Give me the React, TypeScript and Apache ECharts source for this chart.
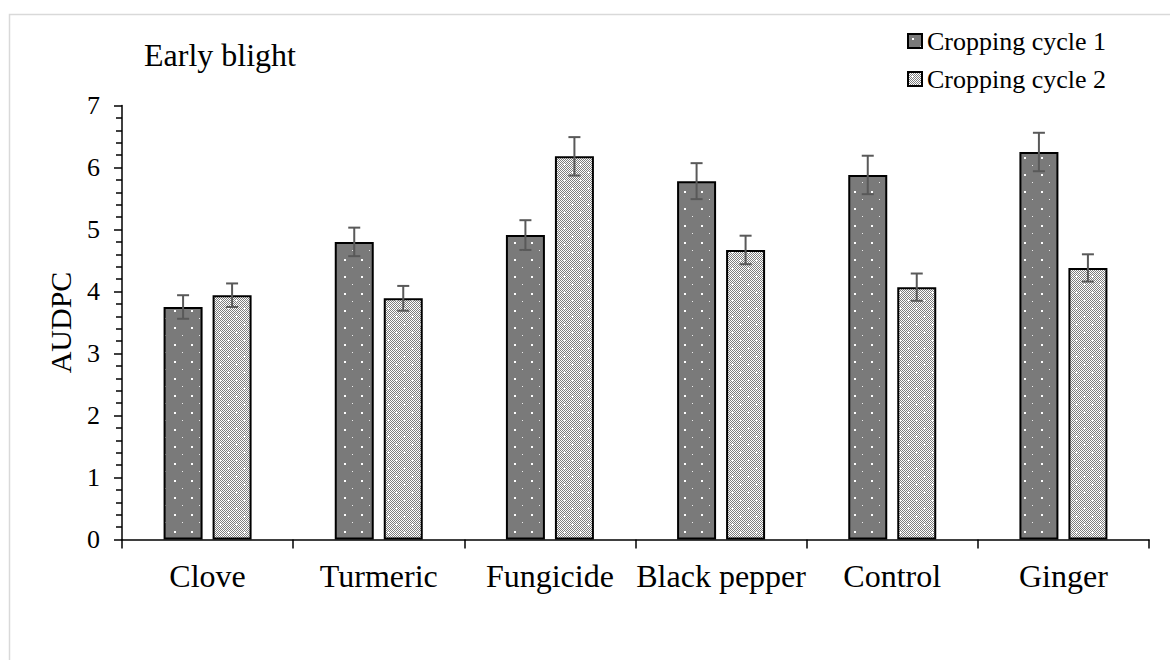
import React, { useEffect, useRef } from "react";
import * as echarts from "echarts";

const categories = ["Clove", "Turmeric", "Fungicide", "Black pepper", "Control", "Ginger"];
const cycle1 = [3.75, 4.8, 4.91, 5.78, 5.88, 6.25];
const cycle2 = [3.94, 3.89, 6.18, 4.67, 4.07, 4.38];
const err1 = [0.19, 0.23, 0.24, 0.29, 0.31, 0.31];
const err2 = [0.19, 0.2, 0.31, 0.23, 0.22, 0.22];
const seriesNames = ["Cropping cycle 1", "Cropping cycle 2"];
const yTicks = [0, 1, 2, 3, 4, 5, 6, 7];

const FONT = '"Liberation Serif", "Times New Roman", serif';

function makePattern1(): HTMLCanvasElement {
  const c = document.createElement("canvas");
  c.width = 17;
  c.height = 17;
  const ctx = c.getContext("2d")!;
  ctx.fillStyle = "#7a7a7a";
  ctx.fillRect(0, 0, 17, 17);
  ctx.fillStyle = "#ffffff";
  ctx.fillRect(4, 4, 2, 2);
  ctx.fillStyle = "#ececec";
  ctx.fillRect(12, 12, 1, 1);
  return c;
}

function makePattern2(): HTMLCanvasElement {
  const c = document.createElement("canvas");
  c.width = 16;
  c.height = 16;
  const ctx = c.getContext("2d")!;
  for (let y = 0; y < 16; y++) {
    for (let x = 0; x < 16; x++) {
      ctx.fillStyle = (x + y) % 2 === 0 ? "#7f7f7f" : "#ffffff";
      ctx.fillRect(x, y, 1, 1);
    }
  }
  ctx.fillStyle = "#ffffff";
  const plus = (cx: number, cy: number) => {
    ctx.fillRect(cx - 1, cy, 3, 1);
    ctx.fillRect(cx, cy - 1, 1, 3);
  };
  plus(4, 4);
  plus(12, 12);
  return c;
}

export default function App() {
  const ref = useRef<HTMLDivElement>(null);
  useEffect(() => {
    if (!ref.current) return;
    const chart = echarts.init(ref.current, null, { renderer: "svg" });
    const p1 = makePattern1();
    const p2 = makePattern2();
    const fill1: any = { image: p1, repeat: "repeat", imageWidth: 17, imageHeight: 17 };
    const fill2: any = { image: p2, repeat: "repeat", imageWidth: 16, imageHeight: 16 };
    const barWidth = 39;
    const barGapPx = 10;
    const offset = (barWidth + barGapPx) / 2;

    const errSeries = (vals: number[], errs: number[], dir: number) => ({
      type: "custom",
      silent: true,
      z: 10,
      data: vals.map((v, i) => [i, v, errs[i]]),
      encode: { x: 0, y: 1 },
      renderItem: (params: any, api: any) => {
        const idx = api.value(0);
        const v = api.value(1);
        const e = api.value(2);
        const top = api.coord([idx, v + e]);
        const bot = api.coord([idx, v - e]);
        const x = top[0] + dir * offset;
        const hw = 6;
        const style = { stroke: "#595959", lineWidth: 2 };
        return {
          type: "group",
          children: [
            { type: "line", shape: { x1: x, y1: top[1], x2: x, y2: bot[1] }, style },
            { type: "line", shape: { x1: x - hw, y1: top[1], x2: x + hw, y2: top[1] }, style },
            { type: "line", shape: { x1: x - hw, y1: bot[1], x2: x + hw, y2: bot[1] }, style },
          ],
        };
      },
    });

    chart.setOption({
      animation: false,
      backgroundColor: "#ffffff",
      textStyle: { fontFamily: FONT },
      graphic: [
        {
          type: "rect",
          shape: { x: 9.5, y: 14.5, width: 1300, height: 800 },
          style: { fill: "none", stroke: "#d9d9d9", lineWidth: 1.5 },
          silent: true,
          z: -10,
        },
      ],
      title: {
        text: "Early blight",
        left: 144,
        top: 39,
        padding: 0,
        textStyle: { fontFamily: FONT, fontSize: 32, fontWeight: "normal", color: "#000" },
      },
      legend: {
        data: seriesNames,
        orient: "vertical",
        left: 907,
        top: 28,
        itemWidth: 14,
        itemHeight: 14,
        itemGap: 12,
        padding: 0,
        icon: "rect",
        textStyle: { fontFamily: FONT, fontSize: 26, color: "#000" },
      },
      grid: { left: 122, right: 21, top: 105.5, bottom: 120.5, containLabel: false },
      xAxis: {
        type: "category",
        data: categories,
        axisLine: { lineStyle: { color: "#000", width: 1.5 } },
        axisTick: { show: true, length: 9, lineStyle: { color: "#000", width: 1.5 } },
        axisLabel: { fontFamily: FONT, fontSize: 32, color: "#000", margin: 20, interval: 0 },
      },
      yAxis: {
        type: "value",
        min: yTicks[0],
        max: yTicks[yTicks.length - 1],
        interval: 1,
        name: "AUDPC",
        nameLocation: "middle",
        nameGap: 47,
        nameTextStyle: { fontFamily: FONT, fontSize: 30, color: "#000" },
        axisLine: { show: true, lineStyle: { color: "#000", width: 1.5 } },
        axisTick: { show: true, length: 8, lineStyle: { color: "#000", width: 1.5 } },
        minorTick: { show: true, splitNumber: 5, length: 6, lineStyle: { color: "#000", width: 1.5 } },
        splitLine: { show: false },
        axisLabel: { fontFamily: FONT, fontSize: 26, color: "#000", margin: 22 },
      },
      series: [
        {
          name: seriesNames[0],
          type: "bar",
          data: cycle1,
          barWidth: barWidth,
          barGap: `${(barGapPx / barWidth) * 100}%`,
          itemStyle: { color: fill1, borderColor: "#000", borderWidth: 2 },
        },
        {
          name: seriesNames[1],
          type: "bar",
          data: cycle2,
          barWidth: barWidth,
          itemStyle: { color: fill2, borderColor: "#000", borderWidth: 2 },
        },
        errSeries(cycle1, err1, -1),
        errSeries(cycle2, err2, 1),
      ],
    });
    return () => chart.dispose();
  }, []);
  return (
    <div
      ref={ref}
      style={{ position: "fixed", left: 0, top: 0, width: 1170, height: 660 }}
    />
  );
}
